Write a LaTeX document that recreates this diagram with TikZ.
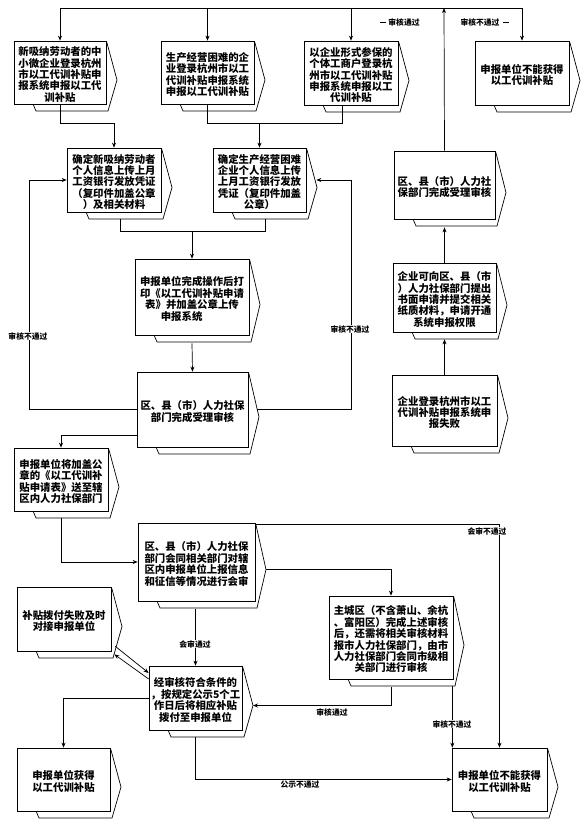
\documentclass[tikz,border=0pt]{standalone}
\usepackage{fontspec}
\newfontfamily\cjk{Noto Sans CJK SC}
\usetikzlibrary{calc,arrows.meta}
\tikzset{
  boxline/.style={draw=black,line width=0.7pt,fill=white},
  boxnode/.style={draw=black,line width=0.7pt,fill=white,inner sep=0pt,rectangle},
  boxtext/.style={align=center,inner sep=0pt,font=\cjk\bfseries\fontsize{10.4}{11.4}\selectfont},
  conn/.style={draw=black,line width=0.7pt},
  arr/.style={conn,-{Stealth[length=5pt,width=4pt]}},
  lab/.style={font=\cjk\bfseries\fontsize{7.8}{8}\selectfont,inner sep=0.5pt},
  labw/.style={lab,fill=white},
}
% name, L, T, R, B, text
\newcommand\mydocbox[6]{%
  \pgfmathsetmacro\mymid{(#3+#5+7)/2+4}%
  \filldraw[boxline] (#2+19,#5) -- (#2+22,#5+7) -- (#4+2,#5+7) -- (#4+11,\mymid) -- (#4+1,#3+2) -- cycle;
  \coordinate (#1tip) at (#4+11,\mymid);
  \node[boxnode,minimum width=#4-#2,minimum height=#5-#3] (#1) at ({(#2+#4)/2},{(#3+#5)/2}) {};
  \node[boxtext] (#1t) at ({(#2+#4)/2},{(#3+#5)/2+2}) {#6};
}
\begin{document}
\begin{tikzpicture}[x=1pt,y=-1pt]
\fill[white] (0,0) rectangle (582,821);
\useasboundingbox (0,0) rectangle (582,821);

% top row
\mydocbox{A}{14}{41}{106}{104}{新吸纳劳动者的中\\小微企业登录杭州\\市以工代训补贴申\\报系统申报以工代\\训补贴}
\mydocbox{B}{161}{41}{254}{104}{生产经营困难的企\\业登录杭州市以工\\代训补贴申报系统\\申报以工代训补贴}
\mydocbox{C}{304}{41}{398}{105}{以企业形式参保的\\个体工商户登录杭\\州市以工代训补贴\\申报系统申报以工\\代训补贴}
\mydocbox{D}{475}{41}{569}{105}{申报单位不能获得\\以工代训补贴}

% second row
\mydocbox{E}{67}{148}{161}{212}{确定新吸纳劳动者\\个人信息上传上月\\工资银行发放凭证\\（复印件加盖公章\\）及相关材料}
\mydocbox{F}{213}{148}{306}{212}{确定生产经营困难\\企业个人信息上传\\上月工资银行发放\\凭证（复印件加盖\\公章）}
\mydocbox{G}{135}{259}{249}{335}{申报单位完成操作后打\\印《以工代训补贴申请\\表》并加盖公章上传\\申报系统\hspace*{2em}}
\mydocbox{H}{137}{372}{248}{447}{区、县（市）人力社保\\部门完成受理审核}

% right column
\mydocbox{Ra}{394}{151}{495}{219}{区、县（市）人力社\\保部门完成受理审核}
\mydocbox{Rb}{393}{263}{496}{332}{企业可向区、县（市\\）人力社保部门提出\\书面申请并提交相关\\纸质材料，申请开通\\系统申报权限}
\mydocbox{Rc}{392}{375}{497}{446}{企业登录杭州市以工\\代训补贴申报系统申\\报失败}

% lower part
\mydocbox{I}{14}{448}{108}{511}{申报单位将加盖公\\章的《以工代训补\\贴申请表》送至辖\\区内人力社保部门}
\mydocbox{J}{138}{523}{255}{601}{区、县（市）人力社保\\部门会同相关部门对辖\\区内申报单位上报信息\\和征信等情况进行会审}
\mydocbox{K}{329}{596}{453}{679}{主城区（不含萧山、余杭\\、富阳区）完成上述审核\\后，还需将相关审核材料\\报市人力社保部门，由市\\人力社保部门会同市级相\\关部门进行审核}
\mydocbox{M}{17}{587}{111}{651}{补贴拨付失败及时\\对接申报单位}
\mydocbox{L}{149}{666}{242}{730}{经审核符合条件的\\，按规定公示5个工\\作日后将相应补贴\\拨付至申报单位}
\mydocbox{O}{17}{748}{110}{811}{申报单位获得\\以工代训补贴}
\mydocbox{N}{452}{748}{547}{811}{申报单位不能获得\\以工代训补贴}

% ---- connectors ----
% top distribution line
\coordinate (top) at (444,8);
\draw[arr] (Ra.north) -- (top);
\draw[conn] (A.north |- top) -- (D.north |- top);
\draw[arr] (A.north |- top) -- (A.north);
\draw[arr] (B.north |- top) -- (B.north);
\draw[arr] (C.north |- top) -- (C.north);
\draw[arr] (D.north |- top) -- (D.north);
\draw[conn] (380,22) -- (386,22);
\node[lab] (lt1) at (404,22) {审核通过};
\node[lab] (lt2) at (480,22) {审核不通过};
\draw[conn] (503,22) -- (509,22);

% first row to second row
\coordinate (ab) at ($(A.south)+(0,19)$);
\coordinate (bb) at ($(B.south)+(0,19)$);
\draw[arr] (A.south) -- (ab) -| (E.north);
\draw[arr] (B.south) -- (bb) -| (F.north);
\coordinate (cb) at ($(C.south)+(-9,0)$);
\draw[conn] (cb) |- (bb);

% E,F to G
\coordinate (eb) at ($(E.south)+(6,7)$);
\coordinate (fb) at ($(F.south)+(6,7)$);
\coordinate (efj) at ($(eb)+(0,12)$);
\draw[conn] (eb) -- (efj) -| (fb);
\draw[arr] (G.north |- efj) -- (G.north);

% G to H
\coordinate (gb) at ($(G.south)+(0,8)$);
\draw[arr] (gb) -- (H.north);

% H left loop to E
\coordinate (lx) at (29,0);
\draw[arr] (H.west) -| (lx |- E.west) -- (E.west);
\node[labw] (lb1) at (28,336) {审核不通过};

% H right loop to F
\coordinate (hr) at ($(H.east)+(9,0)$);
\coordinate (rx) at (351,0);
\coordinate (ft) at ($(F.east)+(10,0)$);
\draw[arr] (hr) -| (rx |- ft) -- (ft);
\node[labw] (lb2) at (350,329) {审核不通过};

% right column
\draw[arr] (Rc.north) -- ($(Rb.south)+(0,7)$);
\draw[arr] (Rb.north) -- ($(Ra.south)+(0,8)$);

% H to I
\coordinate (hl) at ($(H.west)+(0,26)$);
\draw[arr] (hl) -| (I.north);

% I to J
\coordinate (ib) at ($(I.south)+(0,7)$);
\draw[arr] (ib) |- (J.west);

% J to N (会审不通过)
\coordinate (jr) at ($(J.north east)+(0,2)$);
\draw[arr] (jr) -| (N.north);
\node[labw] (lb3) at (487,531) {会审不通过};

% J to K
\draw[arr] (Jtip) -| (K.north);

% J to L
\coordinate (jb) at ($(J.south)+(0,8)$);
\draw[arr] (L.north |- jb) -- (L.north);
\node[labw] (lb4) at (195,644) {会审通过};

% K to L
\coordinate (kbl) at ($(K.south)+(0,8)$);
\draw[arr] (kbl) |- (Ltip);
\node[lab] (lb5) at (332,712) {审核通过};

% K to N
\coordinate (kbr) at ($(K.south east)+(-1,7)$);
\draw[arr] (kbr) -- (kbr |- N.north);
\node[labw] (lb6) at (452,724) {审核不通过};

% L <-> M
\draw[arr] ($(M.south east)+(4,-5)$) -- ($(L.west)+(0,-25)$);
\draw[arr] ($(L.west)+(0,-19)$) -- ($(M.south east)+(3,3)$);

% L to O
\draw[arr] (L.west) -| (O.north);

% L to N
\coordinate (lbb) at ($(L.south)+(0,7)$);
\draw[arr] (lbb) |- (N.west);
\node[lab] (lb7) at (300,785) {公示不通过};
\end{tikzpicture}
\end{document}
